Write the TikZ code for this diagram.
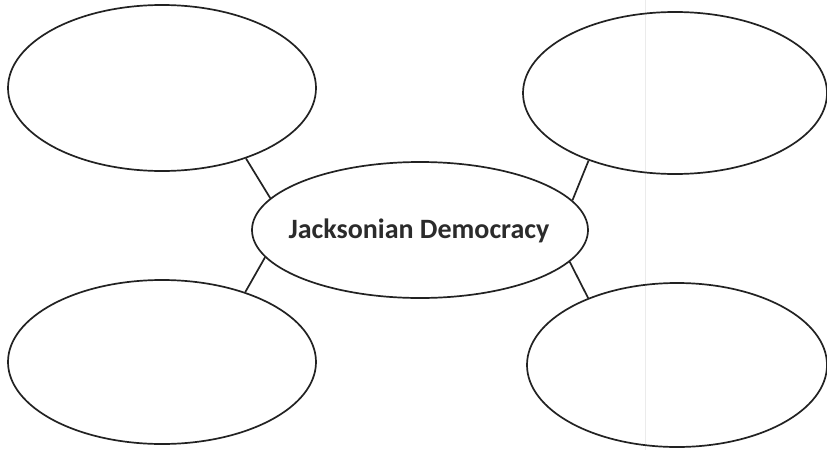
\documentclass[tikz,border=0pt]{standalone}
\usepackage{fontspec}
\newfontfamily\labelfont{Carlito}
\usetikzlibrary{shapes.geometric}
\definecolor{inkc}{HTML}{222222}
\definecolor{textc}{HTML}{2B2B2B}
\tikzset{
  bubble/.style={draw=inkc, line width=1.7pt, ellipse, inner sep=0pt, fill=none},
  link/.style={draw=inkc, line width=1.7pt}
}
\begin{document}
\begin{tikzpicture}[x=1pt,y=-1pt]
\useasboundingbox (0,0) rectangle (827,450);
\fill[white] (0,0) rectangle (827,450);
\draw[black!8, line width=0.8pt] (645,0) -- (645,450);
\node[bubble, minimum width=308pt, minimum height=166pt] (tl) at (162,88) {};
\node[bubble, minimum width=304pt, minimum height=162pt] (tr) at (675,93) {};
\node[bubble, minimum width=308pt, minimum height=164pt] (bl) at (162,362) {};
\node[bubble, minimum width=300pt, minimum height=164pt] (br) at (677,365) {};
\node[bubble, minimum width=336pt, minimum height=136pt] (c) at (420,230) {};
\node[text=textc, font=\labelfont\bfseries\fontsize{28}{32}\selectfont] (lbl) at (419,231) {Jacksonian Democracy};
\draw[link] (tl.-40) -- (c.168);
\draw[link] (tr.-142.6) -- (c.11);
\draw[link] (bl.40) -- (c.190.4);
\draw[link] (br.143.2) -- (c.-12.7);
\end{tikzpicture}
\end{document}
